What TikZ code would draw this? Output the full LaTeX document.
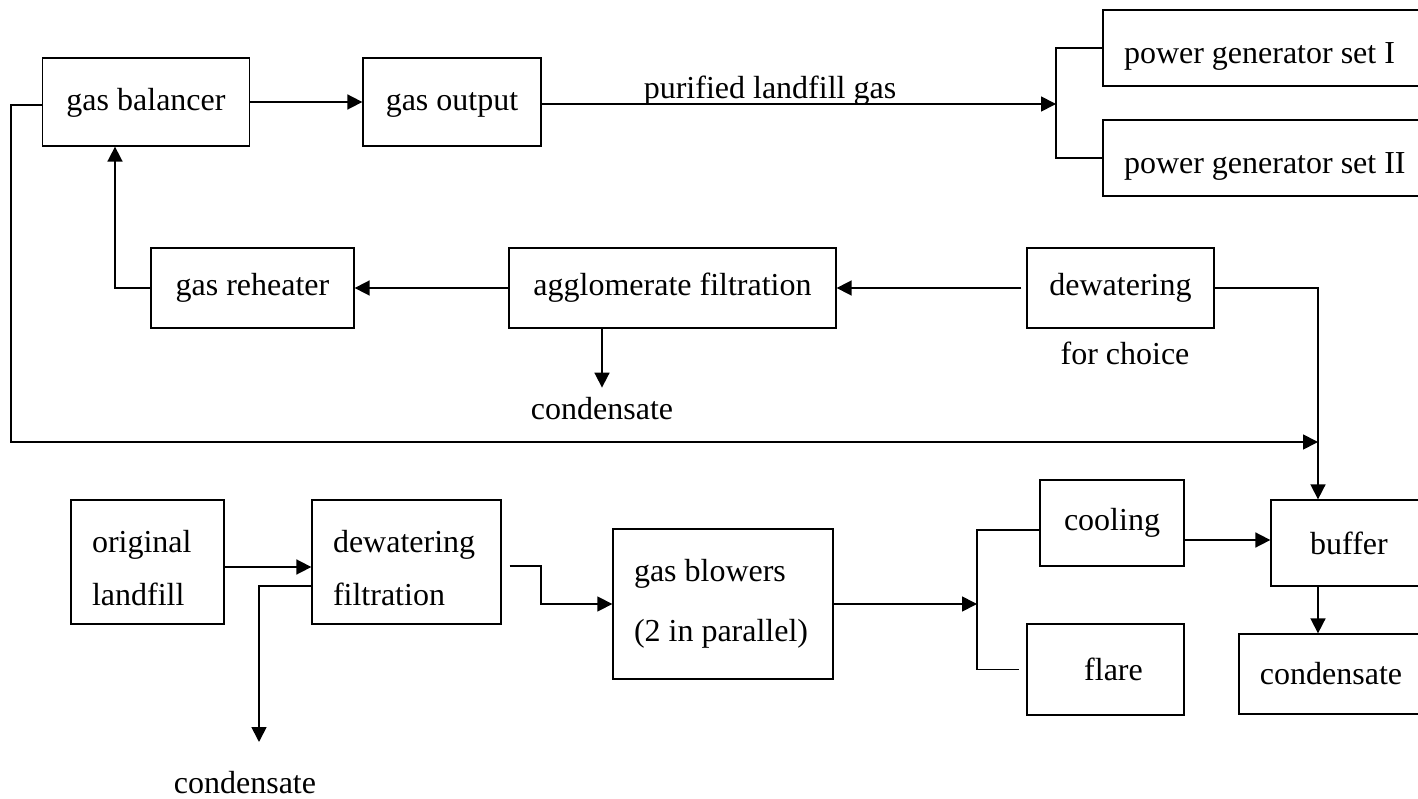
\documentclass[tikz,border=0pt]{standalone}
\usepackage{fontspec}
\setmainfont{Liberation Serif}
\usetikzlibrary{arrows.meta}
\begin{document}
\begin{tikzpicture}[x=1pt,y=-1pt,
  box/.style={draw,line width=1.3pt,inner sep=0pt,align=center,font=\fontsize{32}{38}\selectfont},
  lbox/.style={draw,line width=1.3pt,inner sep=0pt,align=flush left},
  lbl/.style={inner sep=0pt,font=\fontsize{32}{38}\selectfont},
  conn/.style={line width=1.7pt},
  arr/.style={line width=1.7pt,-{Triangle[length=15pt,width=15pt]}},
  thin/.style={line width=1.3pt}]
\useasboundingbox (0,0) rectangle (1418,799);
\clip (0,0) rectangle (1418,799);
% boxes
\node[box,minimum width=207pt,minimum height=88pt,text height=25pt,text depth=7pt] (bal) at (146,102) {gas balancer};
\node[box,minimum width=178pt,minimum height=88pt,text height=25pt,text depth=7pt] (out) at (452,102) {gas output};
\node[lbox,text width=337pt,minimum height=76pt,text height=38pt,text depth=7pt,font=\fontsize{32}{38}\selectfont] (pg1) at (1271.5,48) {\hspace*{21pt}power generator set I};
\node[lbox,text width=337pt,minimum height=76pt,text height=38pt,text depth=7pt,font=\fontsize{32}{38}\selectfont] (pg2) at (1271.5,158) {\hspace*{21pt}power generator set II};
\node[box,minimum width=203pt,minimum height=80pt] (reh) at (252.5,288) {gas reheater};
\node[box,minimum width=327pt,minimum height=80pt] (agg) at (672.5,288) {agglomerate filtration};
\node[box,minimum width=187pt,minimum height=80pt] (dew) at (1120.5,288) {dewatering};
\node[lbox,text width=153pt,minimum height=124pt,font=\fontsize{32}{53}\selectfont] (orig) at (147.5,562) {\rule{0pt}{35pt}\hspace*{21pt}original\\\hspace*{21pt}landfill};
\node[lbox,text width=189pt,minimum height=124pt,font=\fontsize{32}{53}\selectfont] (filt) at (406.5,562) {\rule{0pt}{35pt}\hspace*{21pt}dewatering\\\hspace*{21pt}filtration};
\node[lbox,text width=220pt,minimum height=150pt,font=\fontsize{32}{60}\selectfont] (blow) at (723,604) {\hspace*{21pt}gas blowers\\\hspace*{21pt}(2 in parallel)};
\node[box,minimum width=144pt,minimum height=86pt] (cool) at (1112,523) {cooling};
\node[box,minimum width=157pt,minimum height=91pt,text width=157pt] (flare) at (1105.5,669.5) {\hspace*{16pt}flare};
\node[box,minimum width=156pt,minimum height=86pt] (buf) at (1349,543) {buffer};
\node[box,minimum width=184pt,minimum height=80pt] (cond2) at (1331,674) {condensate};
% labels
\node[lbl,anchor=base] (pur) at (770,99) {purified landfill gas};
\node[lbl,anchor=base] (choice) at (1125,364) {for choice};
\node[lbl,anchor=base] (cond1) at (602,419) {condensate};
\node[lbl,anchor=base] (cond3) at (245,793) {condensate};
% coordinates
\coordinate (b1) at (1056,104);
\coordinate (j) at (1318,442);
\coordinate (lc) at (11,442);
\coordinate (c3) at (259,742);
\coordinate (k) at (541,0);
\coordinate (b2) at (977,604);
\coordinate (ce) at ([yshift=-17pt]cool.east);
\coordinate (cw) at ([yshift=-7pt]cool.west);
% connectors
\draw[arr] (bal.east) -- (out.west);
\draw[arr] (out.east |- b1) -- (b1);
\draw[thin] (pg1.west) -| (b1) |- (pg2.west);
\draw[arr,shorten <=5pt] (dew.west) -- (agg.east);
\draw[arr] (agg.west) -- (reh.east);
\draw[arr] (reh.west) -| ([xshift=-31pt]bal.south);
\draw[arr] (cond1.north |- agg.south) -- ([yshift=9pt]cond1.north);
\draw[conn] (dew.east) -| (j);
\draw[arr] (j) -- (j |- buf.north);
\draw[arr] ([yshift=-3pt]bal.west) -| (lc) -- (j);
\draw[arr] ([yshift=-5pt]orig.east) -- ([yshift=-5pt]filt.west);
\draw[arr] ([yshift=-24pt]filt.west) -| (c3);
\draw[arr,thin] ([xshift=8pt,yshift=-4pt]filt.east) -| (k |- blow.west) -- (blow.west);
\draw[arr] (blow.east) -- (b2);
\draw[thin] (cw) -| (b2) |- ([xshift=-7pt]flare.west);
\draw[arr] (ce) -- (ce -| buf.west);
\draw[arr] (j |- buf.south) -- (j |- cond2.north);
\end{tikzpicture}
\end{document}
